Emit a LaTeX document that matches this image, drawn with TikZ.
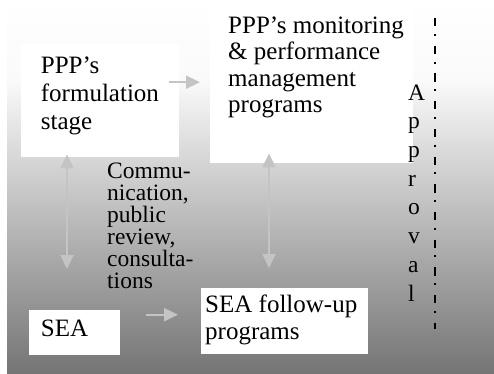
\documentclass[tikz,border=0pt]{standalone}
\usepackage{fontspec}
\setmainfont{Liberation Serif}
\usetikzlibrary{arrows.meta}
\definecolor{bgtop}{RGB}{250,250,250}
\definecolor{bgbot}{RGB}{117,117,117}
\definecolor{arrowgray}{RGB}{196,196,196}

\tikzset{
  box/.style={fill=white, anchor=north west, inner sep=0pt},
  boxtext/.style={anchor=base west, align=left, inner sep=0pt},
  flow/.style={arrowgray, line width=2pt, -{Triangle[length=14pt, width=13pt]}},
  twoway/.style={arrowgray, line width=2pt, {Triangle[length=14pt, width=13pt]}-{Triangle[length=14pt, width=13pt]}},
  approvalline/.style={black, line width=2pt, line cap=butt, dash pattern=on 8.3pt off 7.5pt on 2pt off 9.9pt},
}

\begin{document}
\begin{tikzpicture}[x=1pt, y=-1pt]
  % Background
  \fill[white] (0,0) rectangle (494,373);
  \useasboundingbox (0,0) rectangle (494,373);
  \shade[top color=white, bottom color=bgtop] (7,0) rectangle (494,80);
  \shade[top color=bgtop, bottom color=bgbot] (7,80) rectangle (494,373);

  % Boxes
  \node[box, minimum width=158, minimum height=113] (form) at (21,44) {};
  \node[box, minimum width=203, minimum height=159] (mon) at (210,4) {};
  \node[box, minimum width=91, minimum height=45] (sea) at (29,310) {};
  \node[box, minimum width=167, minimum height=66] (fol) at (201,288) {};

  % Arrows
  \coordinate (leftaxis) at (67,0);
  \coordinate (midaxis) at (269,0);
  \coordinate (seaarrow) at ([yshift=6.5pt]fol.west);
  \draw[flow, shorten <=-10pt, shorten >=10pt] ([yshift=1.5pt]form.east |- mon.west) -- ([yshift=1.5pt]mon.west);
  \draw[flow, shorten <=26pt, shorten >=23pt] (sea.east |- seaarrow) -- (seaarrow);
  \draw[twoway, shorten <=-3pt, shorten >=41pt] (form.south -| leftaxis) -- (sea.north -| leftaxis);
  \draw[twoway, shorten <=-10pt, shorten >=20pt] (mon.south -| midaxis) -- (fol.north -| midaxis);

  % Texts (anchored at the last line)
  \node[boxtext, font=\fontsize{25}{28}\selectfont] (formtext) at (40.7,129) {PPP’s\\formulation\\stage};
  \node[boxtext, font=\fontsize{25}{26.5}\selectfont] (montext) at (228,112.5) {PPP’s monitoring\\\& performance\\management\\programs};
  \node[boxtext, font=\fontsize{25}{27}\selectfont] (seatext) at (40.7,336) {SEA};
  \node[boxtext, font=\fontsize{25}{27}\selectfont] (foltext) at (205,339.7) {SEA follow-up\\programs};
  \node[boxtext, font=\fontsize{23.5}{22}\selectfont] (comm) at (107,288) {Commu-\\nication,\\public\\review,\\consulta-\\tions};

  % Approval
  \node[boxtext, font=\fontsize{23.5}{28.7}\selectfont] (approval) at (408,301) {A\\p\\p\\r\\o\\v\\a\\l};
  \coordinate (apptop) at (435,18);
  \coordinate (appbot) at (435,329);
  \draw[approvalline] (apptop) -- (appbot);
\end{tikzpicture}
\end{document}
